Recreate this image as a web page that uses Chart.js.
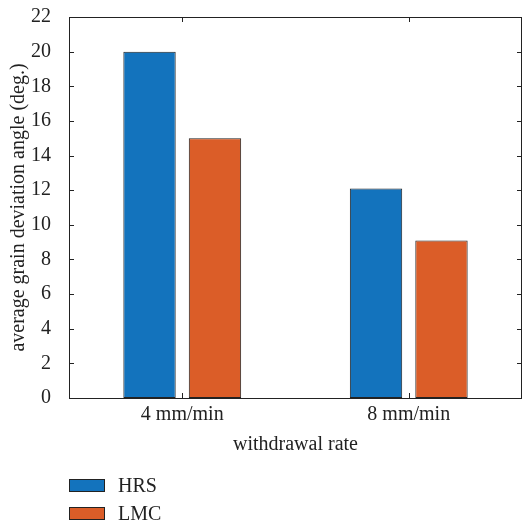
<!DOCTYPE html>
<html>
<head>
<meta charset="utf-8">
<script src="https://cdn.jsdelivr.net/npm/chart.js@4/dist/chart.umd.min.js"></script>
<style>
  html, body { margin: 0; padding: 0; background: #fff; }
  #wrap { position: relative; width: 525px; height: 523px; }
  #legend { position: absolute; left: 69px; top: 471px; font-family: "Liberation Serif", serif; font-size: 20px; color: #222; }
  .item { display: flex; align-items: center; height: 28px; }
  .box { width: 34px; height: 11px; border: 1px solid #222; margin-right: 13px; }
</style>
</head>
<body>
<div id="wrap">
  <canvas id="c" width="525" height="523"></canvas>
  <div id="legend"></div>
</div>
<script>
  // data
  const categories = ["4 mm/min", "8 mm/min"];
  const seriesNames = ["HRS", "LMC"];
  const hrs = [20.0, 12.1];
  const lmc = [15.0, 9.1];
  const colors = ["#1373BD", "#DB5D28"];

  const FONT = "'Liberation Serif', serif";
  const INK = "#222";

  // box + inward ticks, like the original figure
  const frame = {
    id: "frame",
    afterDraw(chart) {
      const { ctx, chartArea: a, scales } = chart;
      const tl = 5;
      ctx.save();
      ctx.strokeStyle = INK;
      ctx.lineWidth = 1;
      ctx.strokeRect(a.left + 0.5, a.top + 0.5, a.right - a.left - 1, a.bottom - a.top);
      ctx.beginPath();
      scales.y.ticks.forEach(t => {
        const y = Math.round(scales.y.getPixelForValue(t.value)) + 0.5;
        ctx.moveTo(a.left, y); ctx.lineTo(a.left + tl, y);
        ctx.moveTo(a.right, y); ctx.lineTo(a.right - tl, y);
      });
      categories.forEach((c, i) => {
        const x = Math.round(scales.x.getPixelForValue(i)) + 0.5;
        ctx.moveTo(x, a.bottom); ctx.lineTo(x, a.bottom - tl);
        ctx.moveTo(x, a.top); ctx.lineTo(x, a.top + tl);
      });
      ctx.stroke();
      ctx.restore();
    }
  };

  const chart = new Chart(document.getElementById("c"), {
    type: "bar",
    data: {
      labels: categories,
      datasets: [
        { label: seriesNames[0], data: hrs, backgroundColor: colors[0], borderColor: "#222", borderWidth: 1, borderSkipped: false },
        { label: seriesNames[1], data: lmc, backgroundColor: colors[1], borderColor: "#222", borderWidth: 1, borderSkipped: false }
      ]
    },
    options: {
      responsive: false,
      animation: false,
      categoryPercentage: 0.578,
      barPercentage: 0.8,
      layout: { padding: { top: 17, right: 3, bottom: 65, left: 0 } },
      plugins: { legend: { display: false }, tooltip: { enabled: false } },
      scales: {
        x: {
          grid: { display: false },
          border: { display: false },
          ticks: { color: INK, font: { family: FONT, size: 20 }, padding: -3 },
          title: { display: true, text: "withdrawal rate", color: INK, font: { family: FONT, size: 20 }, padding: { top: 2, bottom: 1 } },
          afterFit: s => { s.height = 60; s.paddingLeft = 0; s.paddingRight = 0; }
        },
        y: {
          min: 0, max: 22,
          grid: { display: false },
          border: { display: false },
          ticks: { stepSize: 2, color: INK, font: { family: FONT, size: 20 }, padding: 10 },
          title: { display: true, text: "average grain deviation angle (deg.)", color: INK, font: { family: FONT, size: 20 }, padding: { top: 7, bottom: 4 } },
          afterFit: s => { s.width = 69; s.paddingTop = 0; s.paddingBottom = 0; }
        }
      }
    },
    plugins: [frame]
  });

  // legend, stacked like the figure
  const leg = document.getElementById("legend");
  seriesNames.forEach((n, i) => {
    const row = document.createElement("div");
    row.className = "item";
    row.innerHTML = `<span class="box" style="background:${colors[i]}"></span><span>${n}</span>`;
    leg.appendChild(row);
  });
</script>
</body>
</html>
